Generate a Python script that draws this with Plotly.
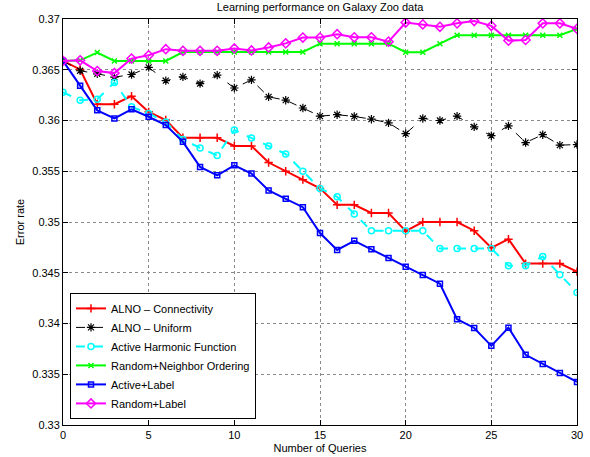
import plotly.graph_objects as go

queries = list(range(31))

alno_connectivity = [0.36587, 0.36503, 0.3616, 0.3616, 0.3624, 0.36085, 0.36005, 0.3583, 0.3583, 0.3583,
                     0.3575, 0.3575, 0.35586, 0.355, 0.35417, 0.35331, 0.35169, 0.35169, 0.35089, 0.35089,
                     0.3491, 0.35, 0.35, 0.35, 0.34914, 0.34746, 0.34831, 0.3459, 0.3459, 0.3459, 0.34511]

alno_uniform = [0.36587, 0.3649, 0.3646, 0.36427, 0.36453, 0.36523, 0.36393, 0.3643, 0.36363, 0.36447,
                0.3632, 0.364, 0.36233, 0.362, 0.36123, 0.36043, 0.36057, 0.3604, 0.36013, 0.35977,
                0.3587, 0.3602, 0.36, 0.36043, 0.35937, 0.3585, 0.35947, 0.35783, 0.3586, 0.35757, 0.35763]

active_harmonic = [0.36278, 0.362, 0.3621, 0.36375, 0.36135, 0.3607, 0.35984, 0.35813, 0.3573, 0.35655,
                   0.35906, 0.35828, 0.35749, 0.3567, 0.355, 0.35331, 0.35248, 0.3508, 0.34914, 0.34914,
                   0.34914, 0.34914, 0.34739, 0.34739, 0.34739, 0.34739, 0.3457, 0.3457, 0.3466, 0.34481, 0.34306]

random_neighbor = [0.36587, 0.36593, 0.3667, 0.36587, 0.36587, 0.36587, 0.36587, 0.36675, 0.36675, 0.36675,
                   0.36675, 0.36675, 0.36675, 0.36675, 0.36675, 0.36757, 0.36757, 0.36757, 0.36757, 0.36757,
                   0.36673, 0.36673, 0.36757, 0.3684, 0.3684, 0.3684, 0.3684, 0.3684, 0.3684, 0.3684, 0.36903]

active_label = [0.36587, 0.36343, 0.361, 0.3602, 0.3611, 0.36037, 0.35955, 0.3579, 0.35543, 0.3546,
                0.35558, 0.35477, 0.35311, 0.35228, 0.35146, 0.34891, 0.34725, 0.34815, 0.34732, 0.34646,
                0.3456, 0.34478, 0.34392, 0.34042, 0.33956, 0.3378, 0.33959, 0.33691, 0.33602, 0.33513, 0.33424]

random_label = [0.36587, 0.36593, 0.36487, 0.36467, 0.3661, 0.36643, 0.36703, 0.36687, 0.36687, 0.36687,
                0.3671, 0.3669, 0.3672, 0.3676, 0.36817, 0.36817, 0.3685, 0.3682, 0.3682, 0.36777,
                0.36965, 0.36947, 0.36923, 0.36957, 0.3698, 0.36933, 0.36787, 0.36793, 0.36957, 0.36957, 0.36903]

series = [
    ("ALNO \u2013 Connectivity", alno_connectivity, "#ff0000", "solid", 2, "cross-thin", 6, 1.5),
    ("ALNO \u2013 Uniform", alno_uniform, "#000000", "dash", 1, "asterisk-open", 7, 1.2),
    ("Active Harmonic Function", active_harmonic, "#00ffff", "dash", 2, "circle-open", 6, 1.5),
    ("Random+Neighbor Ordering", random_neighbor, "#00ff00", "solid", 2, "x-thin-open", 5, 1.5),
    ("Active+Label", active_label, "#0000ff", "solid", 2, "square-open", 5, 1.5),
    ("Random+Label", random_label, "#ff00ff", "solid", 2, "diamond-open", 7, 1.5),
]

fig = go.Figure()
for name, vals, color, dash, lw, sym, msize, mlw in series:
    fig.add_trace(go.Scatter(
        x=queries, y=vals, name=name, mode="lines+markers",
        line=dict(color=color, width=lw, dash=dash),
        marker=dict(symbol=sym, size=msize, color=color,
                    line=dict(color=color, width=mlw)),
    ))

font_family = "Liberation Sans, Arial, Helvetica, sans-serif"
axis_common = dict(
    showline=True, linecolor="black", linewidth=1, mirror="ticks",
    ticks="inside", ticklen=5, tickcolor="black", tickwidth=1,
    showgrid=True, gridcolor="#8a8a8a", griddash="dot", gridwidth=1,
    zeroline=False, tickfont=dict(size=11, color="black"), automargin=False,
)

fig.update_layout(
    width=590, height=457,
    margin=dict(l=63, r=13, t=19, b=32),
    paper_bgcolor="white", plot_bgcolor="white",
    font=dict(family=font_family, size=11, color="black"),
    title=dict(text="Learning performance on Galaxy Zoo data", x=0.5, xref="paper",
               y=1 - 3 / 457, yref="container", yanchor="top", pad=dict(t=0, b=0),
               font=dict(size=11, color="black")),
    xaxis=dict(range=[0, 30], tickvals=[0, 5, 10, 15, 20, 25, 30],
               title=dict(text="Number of Queries", font=dict(size=11), standoff=4),
               **axis_common),
    yaxis=dict(range=[0.33, 0.37], tickvals=[0.33, 0.335, 0.34, 0.345, 0.35, 0.355, 0.36, 0.365, 0.37],
               ticktext=["0.33", "0.335", "0.34", "0.345", "0.35", "0.355", "0.36", "0.365", "0.37"],
               title=dict(text="Error rate", font=dict(size=11), standoff=5),
               **axis_common),
    legend=dict(x=0.0136, y=0.015, xanchor="left", yanchor="bottom",
                bgcolor="white", bordercolor="black", borderwidth=1,
                font=dict(size=11, color="black"), tracegroupgap=0),
)

fig.write_html("out.html", config={"displayModeBar": False},
               post_script="document.body.style.margin='0';document.body.style.overflow='hidden';")
